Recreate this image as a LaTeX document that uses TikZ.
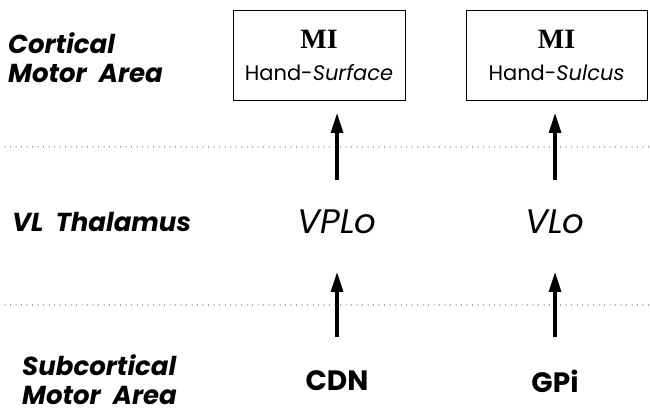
\documentclass[tikz,border=0pt]{standalone}
\usepackage{fontspec}
\setmainfont{Poppins}
\newfontfamily\serifbold{Liberation Serif}
\usetikzlibrary{arrows.meta}
\tikzset{
  x=1pt, y=-1pt,
  rowlabel/.style={anchor=west, align=left, font=\fontsize{26}{29}\selectfont\bfseries\itshape, inner sep=0pt},
  areabox/.style={draw, line width=0.9pt, minimum width=172pt, minimum height=90pt, align=center, inner sep=0pt, font=\fontsize{21}{32}\selectfont},
  nucleus/.style={font=\fontsize{34}{34}\selectfont\itshape, inner sep=2pt},
  source/.style={font=\fontsize{28}{28}\selectfont\bfseries, inner sep=2pt},
  divider/.style={line width=1pt, line cap=round, dash pattern=on 0pt off 5.5pt},
  flow/.style={line width=3.2pt, -{Triangle[length=20pt, width=12pt]}}
}
\begin{document}
\begin{tikzpicture}
\useasboundingbox (0,0) rectangle (650,419);
% row labels
\node[rowlabel] (lcort) at (8,58) {Cortical\\Motor\ \ Area};
\node[rowlabel] (lthal) at (12,222) {VL\ \ Thalamus};
\node[rowlabel] (lsub) at (22,380) {Subcortical\\Motor\ \ Area};
% cortical areas
\node[areabox] (surf) at (319,55) {{\serifbold\fontsize{28}{32}\selectfont\bfseries MI}\\Hand-\textit{Surface}};
\node[areabox, minimum width=181pt] (sulc) at (556.5,55) {{\serifbold\fontsize{28}{32}\selectfont\bfseries MI}\\Hand-\textit{Sulcus}};
% thalamic nuclei
\node[nucleus] (vplo) at (337,222) {VPLo};
\node[nucleus] (vlo) at (555,222) {VLo};
% subcortical sources
\node[source] (cdn) at (337,381) {CDN};
\node[source] (gpi) at (555,381) {GPi};
% level dividers
\coordinate (d1a) at (5,147); \coordinate (d1b) at (650,147);
\coordinate (d2a) at (5,305); \coordinate (d2b) at (650,305);
\draw[divider] (d1a) -- (d1b);
\draw[divider] (d2a) -- (d2b);
% projections
\coordinate (t1) at (337,180); \coordinate (h1) at (337,113);
\coordinate (t2) at (555,180); \coordinate (h2) at (555,113);
\coordinate (t3) at (337,337); \coordinate (h3) at (337,272);
\coordinate (t4) at (555,337); \coordinate (h4) at (555,272);
\draw[flow] (t1) -- (h1);
\draw[flow] (t2) -- (h2);
\draw[flow] (t3) -- (h3);
\draw[flow] (t4) -- (h4);
\end{tikzpicture}
\end{document}
